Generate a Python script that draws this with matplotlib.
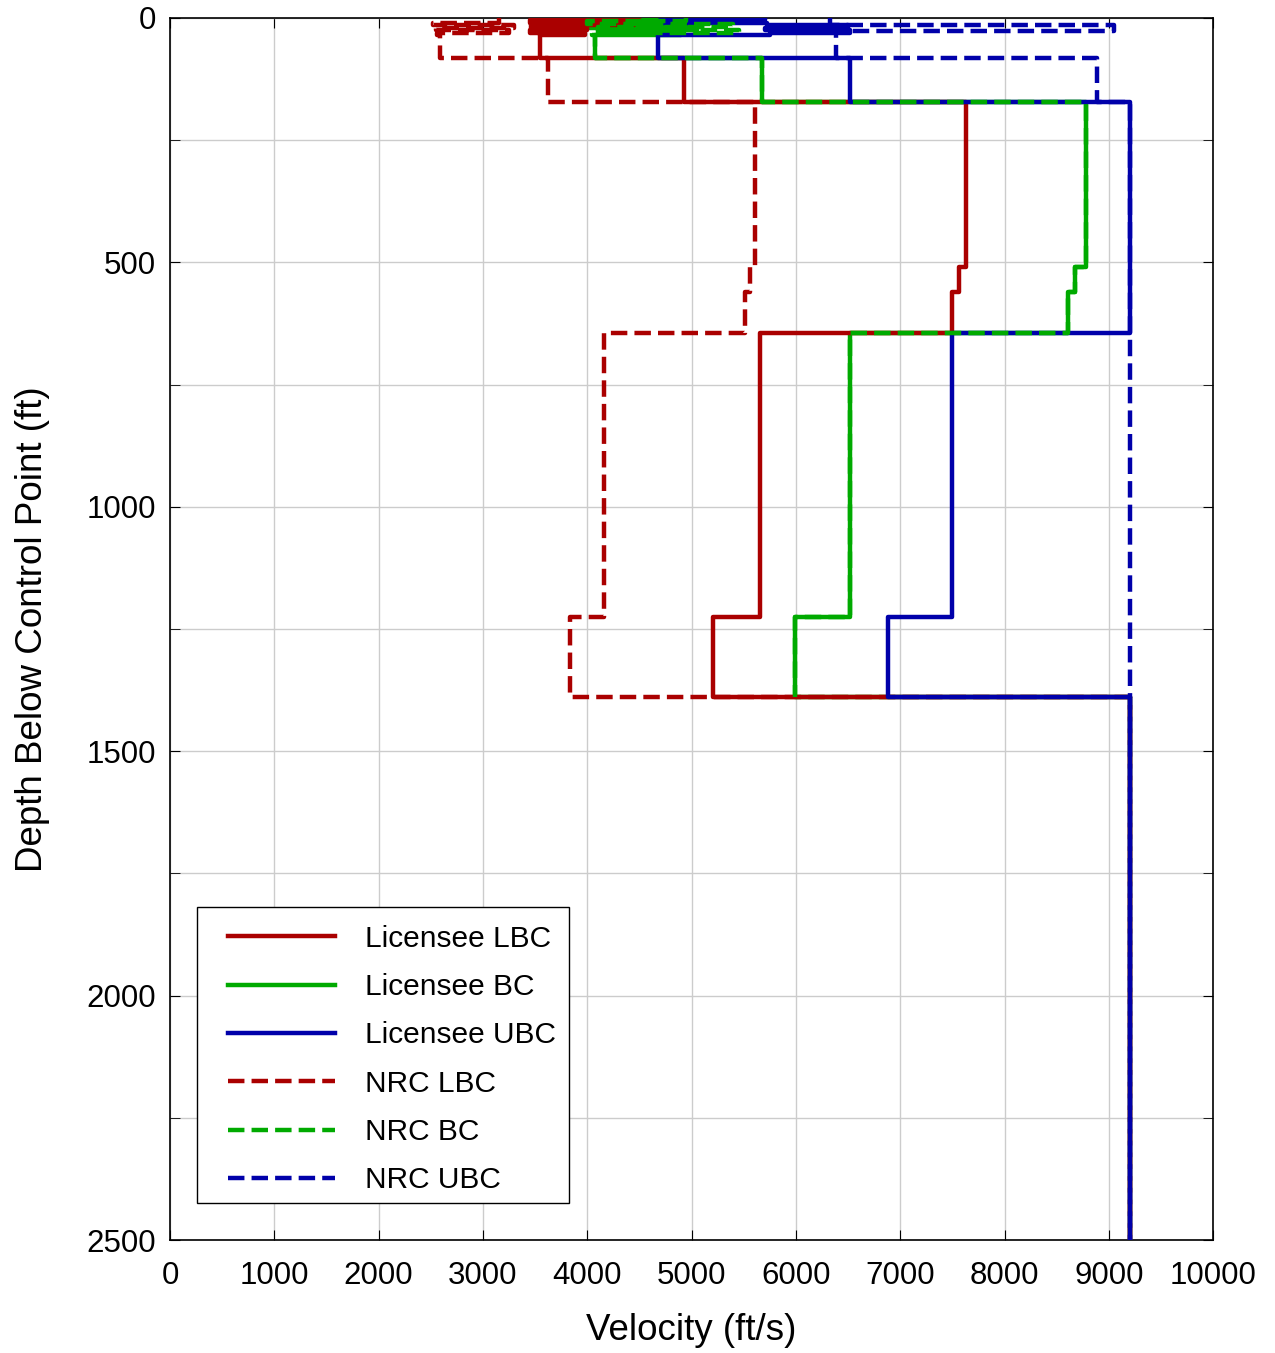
import numpy as np
import matplotlib.pyplot as plt
from matplotlib.ticker import MultipleLocator
from matplotlib.patches import Rectangle

plt.rcParams['font.family'] = ['Liberation Sans', 'DejaVu Sans']

# layer tops (ft) and shear wave velocities (ft/s); last entry = bottom of profile
lic_lbc_depth = [0, 5, 10, 15, 20, 25, 30, 35, 82, 172, 509, 560, 644, 1225, 1389, 2500]
lic_lbc_vel = [4500, 3450, 4450, 3460, 4000, 3450, 3980, 3547, 4928, 7632, 7565, 7498, 5657, 5210, 9200]

lic_bc_depth = [0, 5, 10, 15, 20, 25, 30, 35, 82, 172, 509, 560, 644, 1225, 1389, 2500]
lic_bc_vel = [5000, 4050, 4950, 4000, 5050, 4100, 4900, 4075, 5676, 8782, 8677, 8610, 6520, 5992, 9200]

lic_ubc_depth = [0, 5, 10, 15, 20, 25, 30, 35, 82, 172, 644, 1225, 1389, 2500]
lic_ubc_vel = [5700, 4700, 5720, 6500, 5700, 6520, 5750, 4679, 6520, 9200, 7498, 6884, 9200]

nrc_lbc_depth = [0, 10, 15, 20, 25, 30, 35, 82, 172, 509, 560, 644, 1225, 1389, 2500]
nrc_lbc_vel = [3150, 2520, 3300, 2550, 3250, 2560, 2589, 3624, 5609, 5561, 5513, 4161, 3835, 9200]

nrc_bc_depth = [0, 6, 12, 18, 24, 30, 35, 82, 172, 509, 560, 644, 1225, 1389]
nrc_bc_vel = [4950, 4000, 5400, 4100, 5450, 4050, 4075, 5676, 8782, 8677, 8610, 6520, 5992]

nrc_ubc_depth = [0, 14, 27, 82, 172, 1389, 2500]
nrc_ubc_vel = [6330, 9050, 6380, 8888, 9200, 9200]


def steps(depth, vel):
    d = np.repeat(depth, 2)[1:-1]
    v = np.repeat(vel, 2)
    return v, d


red = '#AA0000'
green = '#00AA00'
blue = '#0000AA'
lw = 3.2

fig = plt.figure(figsize=(12.75, 13.53), dpi=100)
ax = fig.add_axes([0.1333, 0.0835, 0.8182, 0.9032])

h = {}
h['nrc_lbc'], = ax.plot(*steps(nrc_lbc_depth, nrc_lbc_vel), color=red, ls='--', lw=lw, zorder=3)
h['lic_bc'], = ax.plot(*steps(lic_bc_depth, lic_bc_vel), color=green, lw=lw, zorder=4)
h['lic_lbc'], = ax.plot(*steps(lic_lbc_depth, lic_lbc_vel), color=red, lw=lw, zorder=5)
h['lic_ubc'], = ax.plot(*steps(lic_ubc_depth, lic_ubc_vel), color=blue, lw=lw, zorder=6)
h['nrc_ubc'], = ax.plot(*steps(nrc_ubc_depth, nrc_ubc_vel), color=blue, ls='--', lw=lw, zorder=7)
h['nrc_bc'], = ax.plot(*steps(nrc_bc_depth, nrc_bc_vel), color=green, ls='--', lw=lw, zorder=8)

ax.set_xlim(0, 10000)
ax.set_ylim(2500, 0)
ax.xaxis.set_major_locator(MultipleLocator(1000))
ax.yaxis.set_major_locator(MultipleLocator(500))
ax.yaxis.set_minor_locator(MultipleLocator(250))
ax.grid(True, which='both', color='#CCCCCC', lw=1.0, zorder=0)
ax.tick_params(which='both', direction='in', top=True, right=True, labelsize=22.5, length=7)
ax.tick_params(axis='x', pad=15)
ax.tick_params(axis='y', pad=10)
for s in ax.spines.values():
    s.set_linewidth(1.2)

ax.set_xlabel('Velocity (ft/s)', fontsize=26.5, labelpad=16)
ax.set_ylabel('Depth Below Control Point (ft)', fontsize=26.5, labelpad=26)

# legend: frame drawn separately so the inner padding matches
order = ['lic_lbc', 'lic_bc', 'lic_ubc', 'nrc_lbc', 'nrc_bc', 'nrc_ubc']
labels = ['Licensee LBC', 'Licensee BC', 'Licensee UBC', 'NRC LBC', 'NRC BC', 'NRC UBC']
ax.add_patch(Rectangle((0.0259, 0.0303), 0.3567, 0.2422, transform=ax.transAxes,
                       facecolor='white', edgecolor='black', lw=1.0, zorder=9))
leg = ax.legend([h[k] for k in order], labels, loc='upper left',
                bbox_to_anchor=(0.0556, 0.258), borderaxespad=0, borderpad=0,
                fontsize=21.5, handlelength=3.6, handletextpad=1.0,
                labelspacing=0.68, frameon=False)
leg.set_zorder(10)

fig.savefig('out.png', dpi=100)
